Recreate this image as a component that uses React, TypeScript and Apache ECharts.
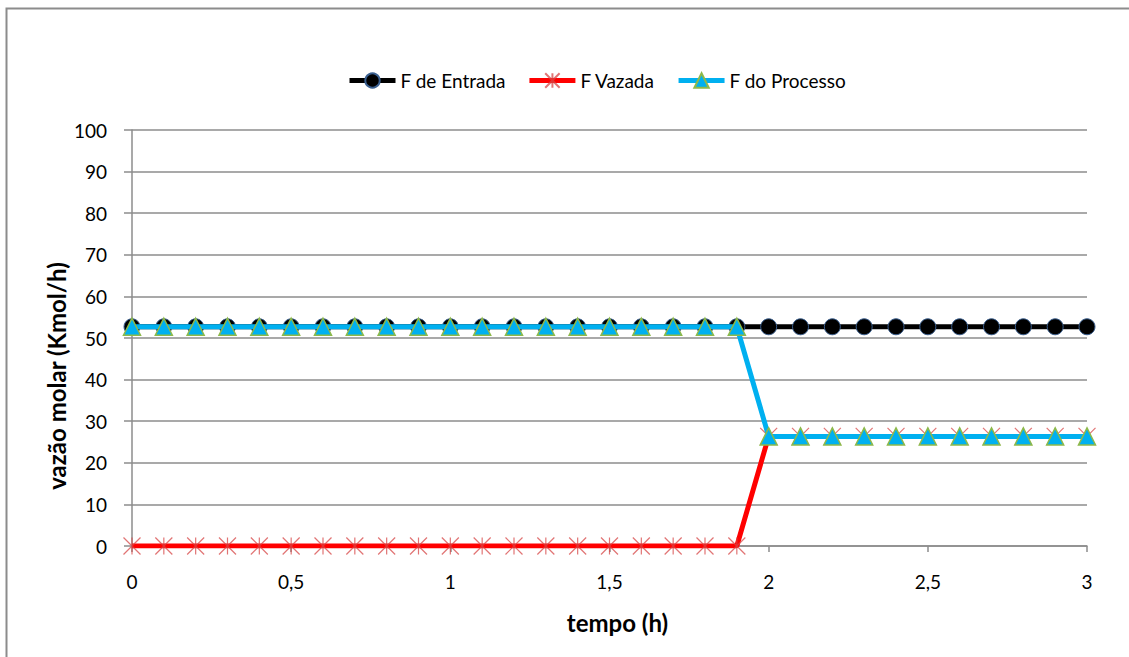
import React, { useEffect, useRef } from "react";
import * as echarts from "echarts";

// tempo (h): 0 to 3 in steps of 0.1
const tempo = [
  0, 0.1, 0.2, 0.3, 0.4, 0.5, 0.6, 0.7, 0.8, 0.9, 1, 1.1, 1.2, 1.3, 1.4, 1.5,
  1.6, 1.7, 1.8, 1.9, 2, 2.1, 2.2, 2.3, 2.4, 2.5, 2.6, 2.7, 2.8, 2.9, 3,
];

const fEntrada = [
  52.7, 52.7, 52.7, 52.7, 52.7, 52.7, 52.7, 52.7, 52.7, 52.7, 52.7, 52.7, 52.7,
  52.7, 52.7, 52.7, 52.7, 52.7, 52.7, 52.7, 52.7, 52.7, 52.7, 52.7, 52.7, 52.7,
  52.7, 52.7, 52.7, 52.7, 52.7,
];

const fVazada = [
  0, 0, 0, 0, 0, 0, 0, 0, 0, 0, 0, 0, 0, 0, 0, 0, 0, 0, 0, 0, 26.35, 26.35,
  26.35, 26.35, 26.35, 26.35, 26.35, 26.35, 26.35, 26.35, 26.35,
];

const fProcesso = [
  52.7, 52.7, 52.7, 52.7, 52.7, 52.7, 52.7, 52.7, 52.7, 52.7, 52.7, 52.7, 52.7,
  52.7, 52.7, 52.7, 52.7, 52.7, 52.7, 52.7, 26.35, 26.35, 26.35, 26.35, 26.35,
  26.35, 26.35, 26.35, 26.35, 26.35, 26.35,
];

const seriesNames = ["F de Entrada", "F Vazada", "F do Processo"];

const FONT = "Lato, 'Open Sans', sans-serif";
const asterisk = "path://M0 0L10 10M10 0L0 10M5 0L5 10";

const pairs = (ys: number[]) => tempo.map((t, i) => [t, ys[i]]);

export default function App() {
  const ref = useRef<HTMLDivElement>(null);

  useEffect(() => {
    if (!ref.current) return;
    const chart = echarts.init(ref.current, undefined, { renderer: "svg" });
    chart.setOption({
      animation: false,
      backgroundColor: "#ffffff",
      graphic: [
        {
          type: "rect",
          shape: { x: 6.5, y: 8.5, width: 1140, height: 670 },
          style: { fill: "none", stroke: "#8c8c8c", lineWidth: 2 },
          silent: true,
        },
      ],
      legend: {
        data: seriesNames,
        top: 66,
        left: 342,
        itemWidth: 46,
        itemHeight: 18,
        itemGap: 21,
        lineStyle: { width: 5 },
        textStyle: { fontFamily: FONT, fontSize: 19, color: "#000" },
      },
      grid: { left: 132, right: 42, top: 130, bottom: 111 },
      xAxis: {
        type: "value",
        min: 0,
        max: 3,
        interval: 0.5,
        name: "tempo (h)",
        nameLocation: "middle",
        nameGap: 64,
        nameTextStyle: {
          fontFamily: FONT,
          fontSize: 24,
          fontWeight: "bold",
          color: "#000",
          padding: [0, 0, 0, 16],
        },
        axisLine: { lineStyle: { color: "#8c8c8c", width: 1.5 } },
        axisTick: { show: true, length: 6, inside: false, lineStyle: { color: "#8c8c8c", width: 1.5 } },
        axisLabel: {
          margin: 26,
          fontFamily: FONT,
          fontSize: 19,
          color: "#000",
          formatter: (v: number) => String(v).replace(".", ","),
        },
        splitLine: { show: false },
      },
      yAxis: {
        type: "value",
        min: 0,
        max: 100,
        interval: 10,
        name: "vazão molar (Kmol/h)",
        nameLocation: "middle",
        nameGap: 64,
        nameMoveOverlap: false,
        nameTextStyle: {
          fontFamily: FONT,
          fontSize: 24,
          fontWeight: "bold",
          color: "#000",
          padding: [0, 76, 0, 0],
        },
        axisLine: { show: true, lineStyle: { color: "#8c8c8c", width: 1.5 } },
        axisTick: { show: true, length: 8, lineStyle: { color: "#8c8c8c", width: 1.5 } },
        axisLabel: { margin: 25, fontFamily: FONT, fontSize: 19, color: "#000" },
        splitLine: { lineStyle: { color: "#8c8c8c", width: 1.5 } },
      },
      series: [
        {
          name: seriesNames[0],
          type: "line",
          data: pairs(fEntrada),
          symbol: "circle",
          symbolSize: 16,
          showAllSymbol: true,
          lineStyle: { color: "#000000", width: 5 },
          itemStyle: { color: "#000000", borderColor: "#3a5f8f", borderWidth: 1 },
          z: 2,
        },
        {
          name: seriesNames[1],
          type: "line",
          data: pairs(fVazada),
          symbol: asterisk,
          symbolSize: 17,
          showAllSymbol: true,
          lineStyle: { color: "#ff0000", width: 5 },
          itemStyle: { color: "#ff0000", borderColor: "rgba(215,70,70,0.75)", borderWidth: 1.2 },
          z: 3,
        },
        {
          name: seriesNames[2],
          type: "line",
          data: pairs(fProcesso),
          symbol: "triangle",
          symbolSize: 17,
          showAllSymbol: true,
          lineStyle: { color: "#00b0f0", width: 5 },
          itemStyle: { color: "#00b0f0", borderColor: "#8db94a", borderWidth: 1.5 },
          z: 4,
        },
      ],
    });
    return () => chart.dispose();
  }, []);

  return (
    <div
      ref={ref}
      style={{ position: "fixed", left: 0, top: 0, width: 1129, height: 657 }}
    />
  );
}
